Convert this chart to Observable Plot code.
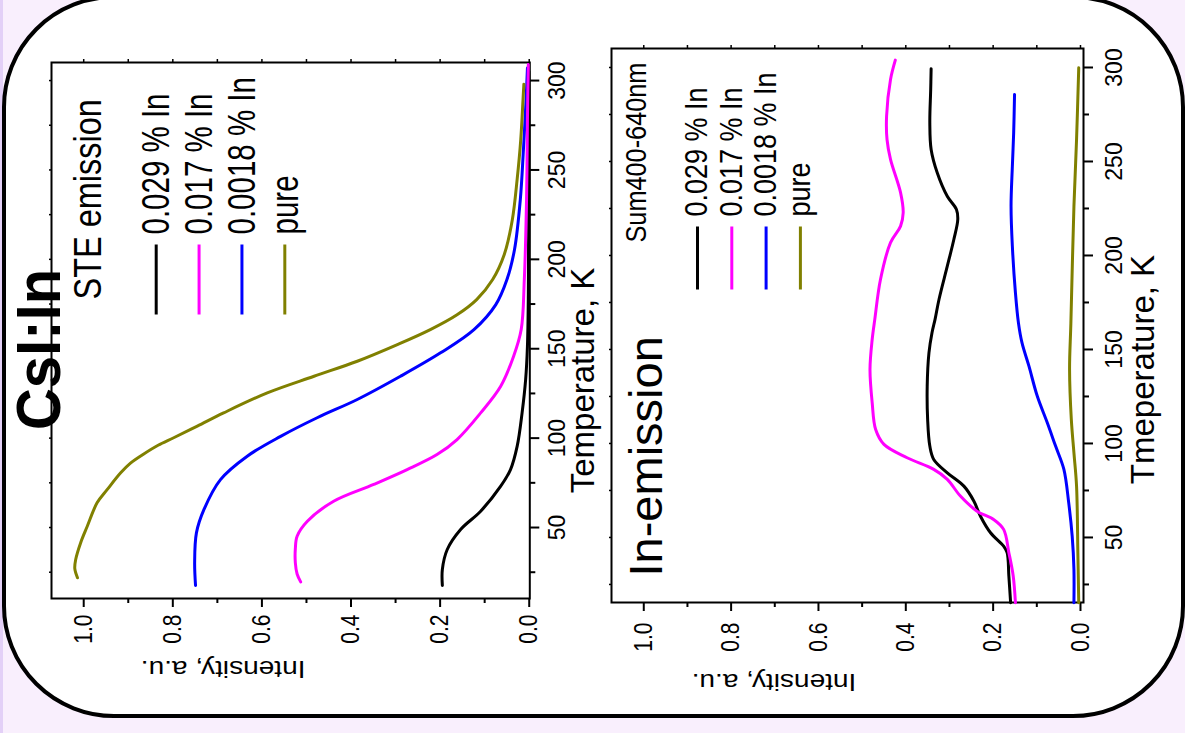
<!DOCTYPE html>
<html>
<head>
<meta charset="utf-8">
<script src="https://cdn.jsdelivr.net/npm/d3@7"></script>
<script src="https://cdn.jsdelivr.net/npm/@observablehq/plot@0.6"></script>
<style>
html,body{margin:0;padding:0;width:1185px;height:733px;overflow:hidden;background:#f9effd;}
#strip{position:absolute;left:0;top:0;width:3px;height:733px;background:#e3d0f7;}
#card{position:absolute;left:2px;top:-5px;width:1183px;height:723px;box-sizing:border-box;border:4.5px solid #000;border-radius:112px;background:#fff;}
#rot{position:absolute;left:0;top:0;width:733px;height:1185px;transform-origin:0 0;transform:translate(0px,733px) rotate(-90deg);font-family:"Liberation Sans",Arial,sans-serif;}
#rot svg{position:absolute;left:0;overflow:visible;}
</style>
</head>
<body>
<div id="strip"></div>
<div id="card"></div>
<div id="rot"></div>
<script>
// ---------- data ----------
const figureTitle = "CsI:In";
const seriesNames = ["0.029 % In", "0.017 % In", "0.0018 % In", "pure"];
const seriesColors = ["#000000", "#ff00ff", "#0000ff", "#808000"];

const tempMajor = [50, 100, 150, 200, 250, 300];
const tempMinor = [25, 75, 125, 175, 225, 275];
const intMajor = [0, 0.2, 0.4, 0.6, 0.8, 1.0];
const intMinor = [0.1, 0.3, 0.5, 0.7, 0.9];

// STE emission panel: [temperature K, intensity a.u.]
const ste029 = [[17.6,0.195],[26.5,0.195],[37.7,0.184],[48.9,0.154],[59.1,0.109],[73.1,0.064],[82.4,0.042],[95.5,0.027],[114.1,0.016],[132.8,0.008],[151.4,0.004],[180,0.002],[230,0.0012],[280,0.001],[305,0.001]];
const ste017 = [[19.6,0.513],[24,0.521],[30.3,0.525],[38,0.525],[45.1,0.521],[53.5,0.498],[64.7,0.439],[74.1,0.349],[82.4,0.274],[90.8,0.207],[99.2,0.162],[114.1,0.109],[129,0.064],[145.8,0.035],[160.7,0.018],[188.7,0.011],[233.4,0.006],[278.2,0.004],[309,0.002]];
const ste0018 = [[17.6,0.749],[30.3,0.751],[47,0.747],[60.1,0.73],[76.8,0.693],[89.9,0.633],[101,0.558],[111.4,0.476],[121.6,0.386],[134.6,0.289],[147.7,0.199],[160.7,0.124],[174.7,0.075],[188.7,0.05],[205.5,0.033],[233.4,0.02],[261.4,0.013],[289.4,0.007],[307,0.004]];
const stePure = [[21.9,1.014],[27,1.02],[32.1,1.018],[41.4,1.007],[50.7,0.992],[63.8,0.97],[71.3,0.947],[80.6,0.917],[86,0.895],[91,0.866],[96,0.833],[100.2,0.798],[106.7,0.745],[114.1,0.686],[125.3,0.588],[134.6,0.483],[143,0.386],[152.3,0.296],[160.7,0.222],[169,0.162],[177.5,0.118],[188.7,0.082],[202.7,0.056],[222,0.038],[245,0.027],[267,0.019],[289,0.014],[298,0.012]];

// In-emission panel (Sum 400-640 nm)
const in029 = [[15.3,0.160],[29.4,0.164],[41.9,0.168],[45.4,0.176],[52.5,0.206],[61.3,0.229],[69.3,0.244],[77.3,0.267],[84.4,0.305],[91.5,0.336],[98.6,0.345],[112.8,0.350],[130.5,0.351],[148.2,0.347],[158.9,0.340],[166,0.333],[176.6,0.324],[194.3,0.305],[208.5,0.290],[219.1,0.281],[224.5,0.284],[231.5,0.305],[244,0.328],[256.4,0.342],[270.6,0.345],[288.3,0.343],[299.3,0.342]];
const in017 = [[15.3,0.149],[29.4,0.154],[41.9,0.164],[54.3,0.176],[59.6,0.199],[64,0.237],[72,0.275],[80.9,0.305],[86.2,0.336],[92.4,0.397],[99.5,0.450],[107.4,0.469],[121.7,0.477],[139.4,0.482],[155.3,0.477],[166,0.471],[187.2,0.458],[206.8,0.435],[215.6,0.412],[222.7,0.406],[233.4,0.412],[251.1,0.435],[261.7,0.443],[274.1,0.444],[293.6,0.435],[303.9,0.424]];
const in0018 = [[15.3,0.015],[33,0.015],[50.7,0.019],[68.5,0.027],[86.2,0.038],[98.6,0.057],[111,0.076],[125.2,0.099],[141.1,0.118],[153.6,0.134],[164,0.142],[180.2,0.149],[204.9,0.156],[226.2,0.159],[247.5,0.156],[265.3,0.153],[285.6,0.151]];
const inPure = [[15.3,0.004],[41.9,0.006],[77.3,0.009],[95,0.015],[112.8,0.021],[139.4,0.025],[164,0.022],[226.2,0.015],[261.7,0.009],[299.8,0.004]];

const steSeries = [ste029, ste017, ste0018, stePure];
const inSeries = [in029, in017, in0018, inPure];
const drawOrder = [0, 2, 3, 1];

// ---------- helpers ----------
const FONT = "Liberation Sans, Arial, sans-serif";

function stretchTexts(svg, kOf) {
  svg.querySelectorAll("text").forEach(t => {
    const k = kOf(t);
    if (!k || k === 1) return;
    const g = document.createElementNS("http://www.w3.org/2000/svg", "g");
    t.parentNode.insertBefore(g, t);
    g.appendChild(t);
    const b = g.getBBox();
    const cy = b.y + b.height / 2;
    g.setAttribute("transform", `translate(0,${cy}) scale(1,${k}) translate(0,${-cy})`);
  });
}

function axes(o) {
  return [
    Plot.axisX(tempMajor, {anchor: "bottom", tickSize: 10, tickPadding: o.xPad, fontSize: 23, strokeWidth: 2, label: null, tickFormat: d => String(d)}),
    Plot.axisX(tempMinor, {anchor: "bottom", tickSize: 6, strokeWidth: 2, label: null, tickFormat: () => "", fill: "none"}),
    Plot.axisX(tempMajor.concat(tempMinor), {anchor: "top", tickSize: 3, strokeWidth: 1.5, label: null, tickFormat: () => "", fill: "none"}),
    Plot.axisY(intMajor, {anchor: "left", tickSize: 8, tickPadding: o.yPad, fontSize: 21, strokeWidth: 2, label: null, tickFormat: d3.format(".1f")}),
    Plot.axisY(intMinor, {anchor: "left", tickSize: 4, strokeWidth: 2, label: null, tickFormat: () => "", fill: "none"}),
    Plot.axisY(intMajor.concat(intMinor), {anchor: "right", tickSize: 3, strokeWidth: 1.5, label: null, tickFormat: () => "", fill: "none"}),
    Plot.frame({stroke: "black", strokeWidth: 2})
  ];
}

function curves(series) {
  return drawOrder.map(i => Plot.line(series[i], {x: d => d[0], y: d => d[1], stroke: seriesColors[i], strokeWidth: 3, curve: "catmull-rom"}));
}

function legend(o) {
  const fw = o.W - o.m.left - o.m.right, fh = o.H - o.m.top - o.m.bottom;
  const invX = u => o.xd[0] + (u - o.m.left) / fw * (o.xd[1] - o.xd[0]);
  const invY = v => o.yd[1] - (v - o.m.top) / fh * (o.yd[1] - o.yd[0]);
  const out = [];
  seriesNames.forEach((name, i) => {
    const v = o.m.top + o.legTop + i * o.legStep;
    out.push(Plot.link([name], {x1: invX(o.m.left + o.lineX0), x2: invX(o.m.left + o.lineX1), y1: invY(v), y2: invY(v), stroke: seriesColors[i], strokeWidth: 3}));
    out.push(Plot.text([name], {text: d => d, frameAnchor: "top-left", dx: o.textX, dy: o.legTop + i * o.legStep, textAnchor: "start", lineAnchor: "middle", fontSize: o.legFont}));
  });
  return out;
}

const rot = document.getElementById("rot");

// ---------- panel 1: STE emission ----------
const p1 = {W: 733, H: 605, m: {top: 51, right: 63, bottom: 75.7, left: 134}, xd: [10.3, 310.1], yd: [-0.0013, 1.0723],
  legTop: 104.7, legStep: 42.87, lineX0: 284, lineX1: 354, textX: 364, legFont: 29.5};
const svg1 = Plot.plot({
  width: p1.W, height: p1.H,
  marginTop: p1.m.top, marginRight: p1.m.right, marginBottom: p1.m.bottom, marginLeft: p1.m.left,
  style: {fontFamily: FONT, background: "transparent", color: "black", overflow: "visible"},
  x: {domain: p1.xd}, y: {domain: p1.yd},
  marks: [
    ...axes({xPad: 9, yPad: 8}),
    ...curves(steSeries),
    ...legend(p1),
    Plot.text([figureTitle], {text: d => d, frameAnchor: "top", dx: -19, dy: -12, fontSize: 58, fontWeight: "bold", lineAnchor: "middle"}),
    Plot.text(["STE emission"], {text: d => d, frameAnchor: "top-left", dx: 299, dy: 36.5, textAnchor: "start", lineAnchor: "middle", fontSize: 32.5}),
    Plot.text(["Intensity, a.u."], {text: d => d, frameAnchor: "left", dx: -69.5, rotate: -90, fontSize: 23, lineAnchor: "middle"}),
    Plot.text(["Temperature, K"], {text: d => d, frameAnchor: "bottom", dx: -50, dy: 54, fontSize: 33, lineAnchor: "middle"})
  ]
});
svg1.style.top = "0px";
rot.appendChild(svg1);

// ---------- panel 2: In-emission ----------
const p2 = {W: 733, H: 580, m: {top: 6, right: 49, bottom: 102, left: 130}, xd: [15.4, 310.1], yd: [-0.0069, 1.0739],
  legTop: 86, legStep: 34.3, lineX0: 313, lineX1: 376, textX: 386, legFont: 27};
const svg2 = Plot.plot({
  width: p2.W, height: p2.H,
  marginTop: p2.m.top, marginRight: p2.m.right, marginBottom: p2.m.bottom, marginLeft: p2.m.left,
  style: {fontFamily: FONT, background: "transparent", color: "black", overflow: "visible"},
  x: {domain: p2.xd}, y: {domain: p2.yd},
  marks: [
    ...axes({xPad: 12, yPad: 12}),
    ...curves(inSeries),
    ...legend(p2),
    Plot.text(["Sum400-640nm"], {text: d => d, frameAnchor: "top-left", dx: 360, dy: 25, textAnchor: "start", lineAnchor: "middle", fontSize: 25.3}),
    Plot.text(["In-emission"], {text: d => d, frameAnchor: "top-left", dx: 26, dy: 35, textAnchor: "start", lineAnchor: "middle", fontSize: 47}),
    Plot.text(["Intensity, a.u."], {text: d => d, frameAnchor: "left", dx: -78.5, dy: -6, rotate: -90, fontSize: 23, lineAnchor: "middle"}),
    Plot.text(["Tmeperature, K"], {text: d => d, frameAnchor: "bottom", dx: -44, dy: 60, fontSize: 33, lineAnchor: "middle"})
  ]
});
svg2.style.top = "605px";
rot.appendChild(svg2);

// ---------- vertical glyph stretch as in the original figure ----------
function kFor(panel) {
  return t => {
    const s = t.textContent;
    if (t.closest('[aria-label="y-axis tick label"]')) return 1.2;
    if (t.closest('[aria-label="x-axis tick label"]')) return 1;
    if (s === figureTitle) return 1.08;
    if (s === "STE emission") return 1.21;
    if (s === "Intensity, a.u.") return 1.22;
    if (s === "Sum400-640nm") return 1.15;
    if (seriesNames.includes(s)) return panel === 1 ? 1.33 : 1.13;
    return 1;
  };
}
stretchTexts(svg1, kFor(1));
stretchTexts(svg2, kFor(2));
</script>
</body>
</html>
